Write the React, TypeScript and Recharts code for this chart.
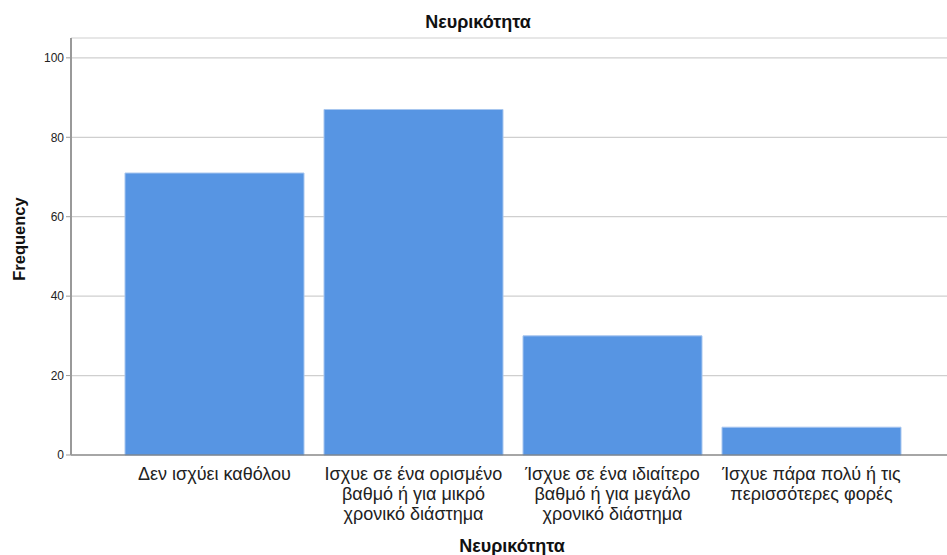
import React from 'react';
import { BarChart, Bar, XAxis, YAxis, CartesianGrid, Label } from 'recharts';

const CATEGORIES = [
  'Δεν ισχύει καθόλου',
  'Ισχυε σε ένα ορισμένο\nβαθμό ή για μικρό\nχρονικό διάστημα',
  'Ίσχυε σε ένα ιδιαίτερο\nβαθμό ή για μεγάλο\nχρονικό διάστημα',
  'Ίσχυε πάρα πολύ ή τις\nπερισσότερες φορές',
];
const FREQUENCIES = [71, 87, 30, 7];
const Y_TICKS = [0, 20, 40, 60, 80, 100];
const TITLE = 'Νευρικότητα';

const FONT = '"Liberation Sans", Arial, sans-serif';

const data = CATEGORIES.map((name, i) => ({ name, value: FREQUENCIES[i] }));

function CategoryTick(props: any) {
  const { x, y, payload } = props;
  const lines = String(payload.value).split('\n');
  return (
    <text x={x} y={y} textAnchor="middle" fontFamily={FONT} fontSize={18} fill="#222">
      {lines.map((line, i) => (
        <tspan key={i} x={x} dy={i === 0 ? 17 : 20}>{line}</tspan>
      ))}
    </text>
  );
}

export default function App() {
  return (
    <div style={{ position: 'absolute', left: 0, top: 0, width: 947, height: 555, background: '#fff' }}>
      <div
        style={{
          position: 'absolute', left: 0, width: 956, top: 12, textAlign: 'center',
          fontFamily: FONT, fontWeight: 'bold', fontSize: 18, color: '#111',
        }}
      >
        {TITLE}
      </div>
      <BarChart
        width={947}
        height={555}
        data={data}
        margin={{ top: 38, right: 0, bottom: 30, left: 11 }}
        barCategoryGap={10}
      >
        <CartesianGrid vertical={false} stroke="#cfcfcf" strokeWidth={1.2} />
        <XAxis
          dataKey="name"
          interval={0}
          height={70}
          padding={{ left: 44, right: 36 }}
          tick={<CategoryTick />}
          tickLine={false}
          axisLine={{ stroke: '#666', strokeWidth: 1.2 }}
        >
          <Label
            content={() => (
              <text x={512} y={552} textAnchor="middle" fontFamily={FONT} fontWeight="bold" fontSize={18} fill="#111">
                {TITLE}
              </text>
            )}
          />
        </XAxis>
        <YAxis
          width={60}
          domain={[0, 105]}
          ticks={Y_TICKS}
          tickLine={{ stroke: '#999' }}
          tickSize={5}
          axisLine={{ stroke: '#999', strokeWidth: 2 }}
          tick={{ fontFamily: FONT, fontSize: 12, fill: '#222' }}
        >
          <Label
            content={() => (
              <text
                x={19}
                y={239}
                transform="rotate(-90 19 239)"
                textAnchor="middle"
                dominantBaseline="central"
                fontFamily={FONT}
                fontWeight="bold"
                fontSize={16.5}
                fill="#111"
              >
                Frequency
              </text>
            )}
          />
        </YAxis>
        <Bar dataKey="value" fill="#5795e3" stroke="#a7c6ef" strokeWidth={1} isAnimationActive={false} />
      </BarChart>
    </div>
  );
}
